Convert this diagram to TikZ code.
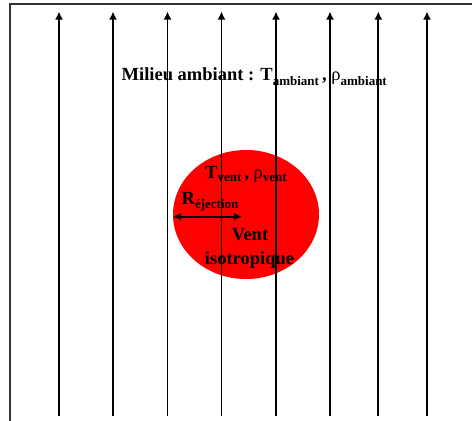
\documentclass[tikz,border=0pt]{standalone}
\usepackage{fontspec}
\setmainfont{Liberation Serif}
\usetikzlibrary{arrows.meta,shapes.geometric}
\newcommand\mysub[2][4.5pt]{\raisebox{-#1}{\fontsize{13}{13}\selectfont\bfseries #2}}
\newcommand\myrho{{\mdseries ρ}}
\tikzset{
  flow/.style={line width=1.8pt, -{Latex[length=8pt,width=8pt]}},
  lbl/.style={inner sep=0pt, font=\fontsize{18.5}{20}\selectfont\bfseries},
  frameline/.style={line width=2pt, black!80},
  rayon/.style={line width=1.8pt, {Latex[length=8pt,width=8pt]}-{Latex[length=8pt,width=8pt]}}
}
\begin{document}
\begin{tikzpicture}[x=1pt,y=-1pt]
\useasboundingbox (0,0) rectangle (472,421);
% wind bubble
\node[ellipse, fill=red, minimum width=146pt, minimum height=129pt, inner sep=0pt] (vent) at (246,214.5) {};
% texts
\node[lbl, anchor=base west] (milieu) at (121.5,80.7) {Milieu ambiant : T\mysub[5pt]{ambiant}\,, \myrho\mysub[5pt]{ambiant}};
\node[lbl, anchor=base west] (tv) at (205,178.3) {T\mysub[3.5pt]{vent}\,, \myrho\mysub[3.5pt]{vent}};
\node[lbl, anchor=base west] (rej) at (181.5,204) {R\mysub[4pt]{éjection}};
\node[lbl, anchor=base] (v1) at (250,240.7) {Vent};
\node[lbl, anchor=base] (v2) at (249.5,264.3) {isotropique};
% radius arrow
\coordinate (ra) at (173,216.7);
\coordinate (rb) at (242,216.7);
\draw[rayon] (ra) -- (rb);
% flow lines
\foreach \i/\x in {1/59,2/113,3/167.5,4/221.5,5/276,6/330,7/378.3,8/427}{
  \coordinate (b\i) at (\x,416);
  \coordinate (t\i) at (\x,11.5);
  \draw[flow] (b\i) -- (t\i);
}
% frame
\coordinate (f1) at (10,421);
\coordinate (f2) at (10,4);
\coordinate (f3) at (472,4);
\draw[frameline] (f1) -- (f2) -- (f3);
\end{tikzpicture}
\end{document}
